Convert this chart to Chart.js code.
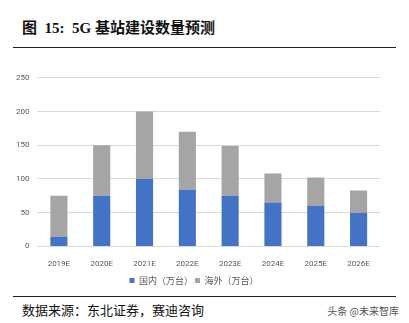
<!DOCTYPE html>
<html>
<head>
<meta charset="utf-8">
<script src="https://cdn.jsdelivr.net/npm/chart.js@4/dist/chart.umd.min.js"></script>
<style>
  html, body { margin: 0; padding: 0; background: #fff; }
  #wrap { position: relative; width: 409px; height: 323px; overflow: hidden; }
  .title { position: absolute; left: 22px; top: 16px; font: bold 15px "Liberation Serif", "Noto Sans CJK SC", serif; color: #111; }
  .rule { position: absolute; left: 13px; width: 383px; height: 0; border-top: 1.5px solid #222; }
  .src { position: absolute; left: 22px; top: 300px; font: 13px "Liberation Serif", "Noto Sans CJK SC", serif; color: #111; }
  .mark { position: absolute; right: 10px; top: 303px; font: 10px "Noto Sans CJK SC", sans-serif; color: #555; }
  #box { position: absolute; left: 0; top: 65px; width: 409px; height: 230px; }
</style>
</head>
<body>
<div id="wrap">
  <div class="title">图&nbsp;&nbsp;15:&nbsp;&nbsp;5G 基站建设数量预测</div>
  <div class="rule" style="top:47px"></div>
  <div id="box"><canvas id="chart"></canvas></div>
  <div class="rule" style="top:296px"></div>
  <div class="src">数据来源：东北证券，赛迪咨询</div>
  <div class="mark">头条 @未来智库</div>
</div>
<script>
const years = ['2019E', '2020E', '2021E', '2022E', '2023E', '2024E', '2025E', '2026E'];
const domestic = [14, 75, 100, 84, 75, 65, 60, 50];
const overseas = [61, 75, 100, 86, 74, 43, 42, 33];
const yTicks = [0, 50, 100, 150, 200, 250];

const tickFont = { family: 'Roboto, "Noto Sans CJK SC", sans-serif', size: 8 };

new Chart(document.getElementById('chart'), {
  type: 'bar',
  data: {
    labels: years,
    datasets: [
      { label: '国内（万台）', data: domestic, backgroundColor: '#4472c4', barPercentage: 0.8, categoryPercentage: 0.5 },
      { label: '海外（万台）', data: overseas, backgroundColor: '#a5a5a5', barPercentage: 0.8, categoryPercentage: 0.5 }
    ]
  },
  options: {
    responsive: true,
    maintainAspectRatio: false,
    animation: false,
    layout: { padding: { left: 8, right: 29, top: 10, bottom: 0 } },
    plugins: {
      tooltip: { enabled: false },
      legend: {
        position: 'bottom',
        labels: { boxWidth: 5, boxHeight: 5, color: '#595959', font: { family: '"Noto Sans CJK SC", sans-serif', size: 9 }, padding: 2 }
      }
    },
    scales: {
      x: {
        stacked: true,
        grid: { display: false },
        border: { display: false },
        ticks: { color: '#595959', font: tickFont, maxRotation: 0, padding: 5 }
      },
      y: {
        stacked: true,
        min: 0,
        max: 250,
        afterBuildTicks: axis => { axis.ticks = yTicks.map(v => ({ value: v })); },
        grid: { color: '#d9d9d9', drawTicks: false },
        border: { display: false },
        ticks: { color: '#595959', font: tickFont, padding: 8 }
      }
    }
  }
});
</script>
</body>
</html>
